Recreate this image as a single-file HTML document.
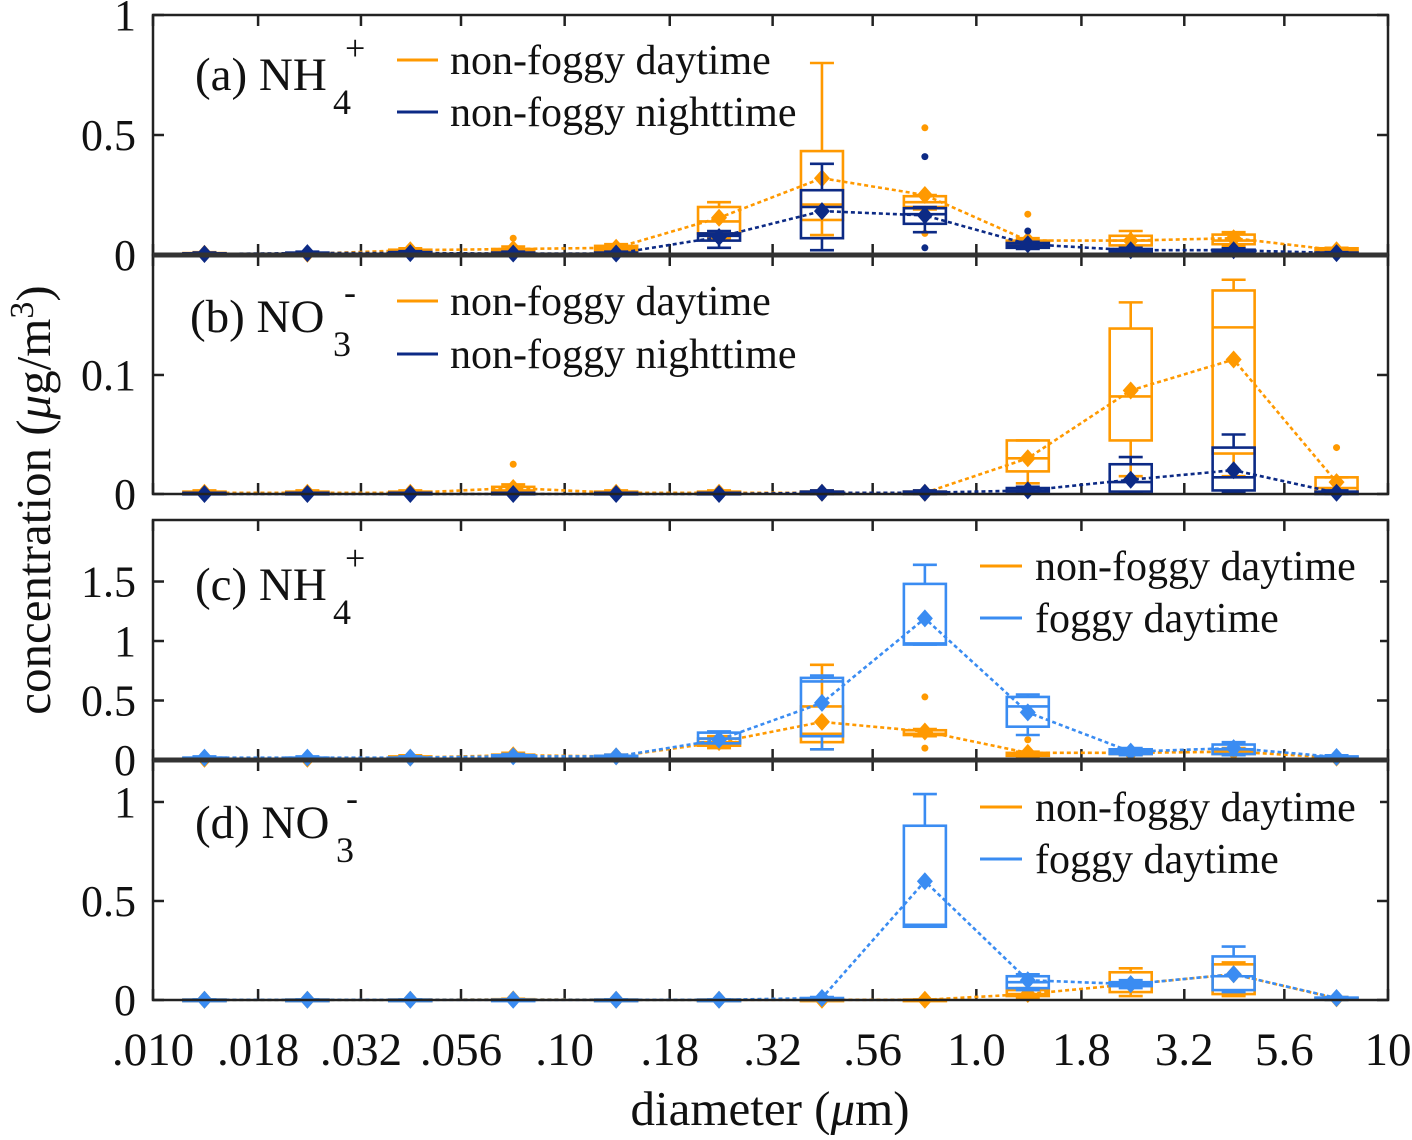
<!DOCTYPE html>
<html><head><meta charset="utf-8">
<style>
html,body{margin:0;padding:0;background:#fff;}
svg text{font-family:"Liberation Serif",serif;fill:#111;}
</style></head>
<body>
<svg id="chart" width="1412" height="1135" viewBox="0 0 1412 1135" xmlns="http://www.w3.org/2000/svg">
<g id="grid"></g>
</svg>
<script>
// ---------- data ----------
const xTickLabels = [".010",".018",".032",".056",".10",".18",".32",".56","1.0","1.8","3.2","5.6","10"];
const xTickValues = [0.010,0.018,0.032,0.056,0.10,0.18,0.32,0.56,1.0,1.8,3.2,5.6,10];
const binCount = 12;
// Each box: [whiskerLow, q1, median, q3, whiskerHigh, mean]
const aDay = [[0,0.002,0.004,0.008,0.012,0.005],[0,0.002,0.004,0.007,0.01,0.005],[0.005,0.01,0.015,0.022,0.028,0.02],[0.005,0.012,0.018,0.025,0.035,0.025],[0.01,0.02,0.028,0.038,0.045,0.03],[0.07,0.09,0.14,0.2,0.22,0.155],[0.083,0.146,0.21,0.433,0.8,0.32],[0.19,0.2,0.22,0.245,0.25,0.25],[0.03,0.035,0.045,0.06,0.07,0.06],[0.035,0.04,0.06,0.08,0.1,0.06],[0.035,0.045,0.06,0.085,0.095,0.07],[0.008,0.01,0.018,0.028,0.03,0.02]];
const aDayOut = [[],[],[],[0.07],[],[],[],[0.53,0.09],[0.17],[],[],[]];
const aNight = [[0,0.002,0.004,0.007,0.01,0.004],[0,0.003,0.006,0.01,0.014,0.008],[0,0.004,0.008,0.012,0.016,0.008],[0,0.003,0.006,0.01,0.014,0.006],[0,0.003,0.006,0.01,0.014,0.006],[0.03,0.06,0.08,0.09,0.1,0.075],[0.02,0.07,0.2,0.27,0.38,0.183],[0.095,0.13,0.17,0.195,0.2,0.165],[0.025,0.03,0.04,0.05,0.055,0.045],[0.005,0.01,0.018,0.025,0.03,0.02],[0.005,0.01,0.015,0.022,0.028,0.02],[0,0.003,0.006,0.01,0.012,0.008]];
const aNightOut = [[],[],[],[],[],[],[],[0.41,0.03],[0.1],[],[],[]];
const bDay = [[0,0,0.001,0.002,0.003,0.001],[0,0,0.001,0.002,0.003,0.001],[0,0,0.001,0.002,0.003,0.001],[0,0.001,0.003,0.006,0.008,0.005],[0,0,0.001,0.002,0.003,0.001],[0,0,0.001,0.002,0.003,0.001],[0,0,0.001,0.002,0.003,0.001],[0,0,0.001,0.002,0.003,0.001],[0.009,0.019,0.03,0.045,0.045,0.03],[0.015,0.045,0.082,0.139,0.161,0.087],[0.015,0.034,0.14,0.171,0.18,0.113],[0.001,0.001,0.005,0.014,0.014,0.01]];
const bDayOut = [[],[],[],[0.025],[],[],[],[],[],[],[],[0.039]];
const bNight = [[0,0,0,0.001,0.001,0],[0,0,0,0.001,0.001,0],[0,0,0,0.001,0.001,0],[0,0,0,0.001,0.001,0],[0,0,0,0.001,0.001,0],[0,0,0,0.001,0.001,0],[0,0,0.001,0.002,0.003,0.001],[0,0,0.001,0.002,0.003,0.001],[0.001,0.002,0.003,0.005,0.006,0.003],[0.001,0.002,0.01,0.025,0.031,0.012],[0.001,0.003,0.014,0.039,0.05,0.02],[0,0,0.001,0.002,0.003,0.001]];
const bNightOut = [[],[],[],[],[],[],[],[],[],[],[],[]];
const cDay = [[0,0.005,0.01,0.015,0.02,0.01],[0,0.005,0.01,0.015,0.02,0.01],[0.005,0.01,0.02,0.03,0.04,0.02],[0.01,0.02,0.03,0.045,0.06,0.04],[0.01,0.015,0.025,0.035,0.045,0.03],[0.1,0.12,0.15,0.18,0.2,0.15],[0.09,0.15,0.22,0.45,0.8,0.32],[0.2,0.21,0.22,0.25,0.26,0.24],[0.03,0.035,0.045,0.06,0.07,0.06],[0.04,0.05,0.06,0.07,0.08,0.06],[0.04,0.05,0.07,0.09,0.1,0.07],[0.005,0.01,0.015,0.02,0.03,0.02]];
const cDayOut = [[],[],[],[],[],[],[],[0.53,0.1],[0.17],[],[],[]];
const cFog = [[0.005,0.01,0.015,0.02,0.03,0.02],[0.005,0.01,0.015,0.02,0.03,0.02],[0.005,0.01,0.015,0.02,0.03,0.02],[0.01,0.02,0.03,0.04,0.05,0.03],[0.01,0.015,0.025,0.035,0.045,0.03],[0.14,0.14,0.18,0.23,0.24,0.17],[0.09,0.2,0.66,0.69,0.71,0.48],[0.97,0.97,0.98,1.48,1.64,1.19],[0.21,0.28,0.45,0.53,0.55,0.4],[0.04,0.05,0.07,0.09,0.1,0.07],[0.04,0.05,0.09,0.13,0.15,0.1],[0.01,0.02,0.025,0.03,0.04,0.025]];
const cFogOut = [[],[],[],[],[],[],[],[],[],[],[],[]];
const dDay = [[0,0,0.001,0.002,0.003,0.001],[0,0,0.001,0.002,0.003,0.001],[0,0,0.001,0.002,0.003,0.001],[0,0,0.002,0.004,0.006,0.003],[0,0,0.001,0.002,0.003,0.001],[0,0,0.001,0.002,0.003,0.001],[0,0,0.001,0.002,0.003,0.001],[0,0,0.001,0.002,0.003,0.001],[0.01,0.02,0.03,0.05,0.06,0.03],[0.02,0.04,0.08,0.14,0.16,0.08],[0.02,0.03,0.12,0.18,0.19,0.13],[0,0.003,0.006,0.01,0.015,0.008]];
const dDayOut = [[],[],[],[],[],[],[],[],[],[],[],[]];
const dFog = [[0,0,0.001,0.002,0.003,0.001],[0,0,0.001,0.002,0.003,0.001],[0,0,0.001,0.002,0.003,0.001],[0,0,0.001,0.002,0.003,0.001],[0,0,0.001,0.002,0.003,0.001],[0,0,0.001,0.002,0.003,0.001],[0,0,0.005,0.01,0.015,0.01],[0.37,0.37,0.38,0.88,1.04,0.6],[0.05,0.06,0.09,0.12,0.13,0.1],[0.06,0.07,0.08,0.09,0.1,0.08],[0.04,0.05,0.12,0.22,0.27,0.13],[0,0.005,0.008,0.012,0.015,0.01]];
const dFogOut = [[],[],[],[],[],[],[],[],[],[],[],[]];
const aYTicks = [0,0.5,1];
const bYTicks = [0,0.1];
const cYTicks = [0,0.5,1,1.5];
const dYTicks = [0,0.5,1];

// ---------- layout ----------
const NS="http://www.w3.org/2000/svg";
const svg=document.getElementById('chart');
const X0=153,X1=1388;
const ORANGE="#ff9900",NAVY="#0c2a85",BLUE="#3a8cf2";
function xScale(v){return X0+(Math.log10(v)+2)/3*(X1-X0);}
function binX(i){return xScale(Math.pow(10,-2+(i+0.5)*0.25));}
function el(tag,attrs,parent){const e=document.createElementNS(NS,tag);for(const k in attrs)e.setAttribute(k,attrs[k]);(parent||svg).appendChild(e);return e;}

const panels=[
 {id:'a',top:15,bottom:255,max:1,ticks:aYTicks,tickLabels:["0","0.5","1"],series:[[aDay,aDayOut,ORANGE],[aNight,aNightOut,NAVY]]},
 {id:'b',top:255,bottom:494,max:0.2008,ticks:bYTicks,tickLabels:["0","0.1"],series:[[bDay,bDayOut,ORANGE],[bNight,bNightOut,NAVY]]},
 {id:'c',top:520,bottom:760,max:2.017,ticks:cYTicks,tickLabels:["0","0.5","1","1.5"],series:[[cDay,cDayOut,ORANGE],[cFog,cFogOut,BLUE]]},
 {id:'d',top:760,bottom:1000,max:1.212,ticks:dYTicks,tickLabels:["0","0.5","1"],series:[[dDay,dDayOut,ORANGE],[dFog,dFogOut,BLUE]]}
];

panels.forEach(p=>{
 const g=el('g',{});
 
 
 const y=v=>p.bottom-v/p.max*(p.bottom-p.top);
 xTickValues.forEach(v=>{
  const x=xScale(v);
  const t1=el('line',{x1:x,x2:x,y1:p.bottom,y2:p.bottom-11,stroke:'#222','stroke-width':2.5},g);
  
  
  const t2=el('line',{x1:x,x2:x,y1:p.top,y2:p.top+11,stroke:'#222','stroke-width':2.5},g);
  
  
 });
 p.ticks.forEach((v,k)=>{
  const yy=y(v);
  el('line',{x1:X0,x2:X0+11,y1:yy,y2:yy,stroke:'#222','stroke-width':2.5},g);
  el('line',{x1:X1,x2:X1-11,y1:yy,y2:yy,stroke:'#222','stroke-width':2.5},g);
  const tl=el('text',{x:136,y:yy+15,'text-anchor':'end','font-size':44},g);
  tl.textContent=p.tickLabels[k];
  
  
 });
 p.series.forEach(([boxes,outs,col])=>{
  const sg=el('g',{},g);
  
  
  boxes.forEach((b,i)=>{
   const cx=binX(i);
   const [lo,q1,md,q3,hi]=b;
   const bx=el('rect',{x:cx-21,y:y(q3),width:42,height:Math.max(y(q1)-y(q3),1.5),fill:'none',stroke:col,'stroke-width':2.6},sg);
   
   
   el('line',{x1:cx-21,x2:cx+21,y1:y(md),y2:y(md),stroke:col,'stroke-width':2.6},sg);
   el('line',{x1:cx,x2:cx,y1:y(q3),y2:y(hi),stroke:col,'stroke-width':2.6},sg);
   el('line',{x1:cx,x2:cx,y1:y(q1),y2:y(lo),stroke:col,'stroke-width':2.6},sg);
   el('line',{x1:cx-12,x2:cx+12,y1:y(hi),y2:y(hi),stroke:col,'stroke-width':2.6},sg);
   el('line',{x1:cx-12,x2:cx+12,y1:y(lo),y2:y(lo),stroke:col,'stroke-width':2.6},sg);
   outs[i].forEach(o=>{
    const c=el('circle',{cx:cx,cy:y(o),r:3.5,fill:col},sg);
    
    
   });
  });
  const pts=boxes.map((b,i)=>binX(i)+','+y(b[5])).join(' ');
  const ml=el('polyline',{points:pts,fill:'none',stroke:col,'stroke-width':2.6,'stroke-dasharray':'4 3'},sg);
  
  
  boxes.forEach((b,i)=>{
   const cx=binX(i),cy=y(b[5]);
   const d=el('polygon',{points:`${cx},${cy-9} ${cx+8},${cy} ${cx},${cy+9} ${cx-8},${cy}`,fill:col},sg);
   
   
  });
 });
 el('rect',{x:X0,y:p.top,width:X1-X0,height:p.bottom-p.top,fill:'none',stroke:'#222','stroke-width':2.5},g);
});
[255,760].forEach(yy=>el('line',{x1:X0,x2:X1,y1:yy,y2:yy,stroke:'#333','stroke-width':5}));

xTickValues.forEach((v,k)=>{
 const t=el('text',{x:xScale(v),y:1065,'text-anchor':'middle','font-size':47});
 t.textContent=xTickLabels[k];
 
 
});
</script>
<svg width="1412" height="1135" style="position:absolute;left:0;top:0;pointer-events:none" xmlns="http://www.w3.org/2000/svg">
<text x="770" y="1125" text-anchor="middle" font-size="49" style="font-family:'Liberation Serif',serif">diameter (<tspan font-style="italic">μ</tspan>m)</text>
<text transform="translate(50,500) rotate(-90)" text-anchor="middle" font-size="49" style="font-family:'Liberation Serif',serif">concentration (<tspan font-style="italic">μ</tspan>g/m<tspan dy="-17" font-size="34">3</tspan><tspan dy="17">)</tspan></text>

<text x="195" y="90" font-size="47" style="font-family:'Liberation Serif',serif">(a) NH<tspan x="333" dy="24" font-size="36">4</tspan><tspan x="345" dy="-54" font-size="36">+</tspan></text>
<text x="190" y="332" font-size="47" style="font-family:'Liberation Serif',serif">(b) NO<tspan x="333" dy="24" font-size="36">3</tspan><tspan x="344" dy="-52" font-size="36">-</tspan></text>
<text x="195" y="600" font-size="47" style="font-family:'Liberation Serif',serif">(c) NH<tspan x="333" dy="24" font-size="36">4</tspan><tspan x="345" dy="-54" font-size="36">+</tspan></text>
<text x="195" y="838" font-size="47" style="font-family:'Liberation Serif',serif">(d) NO<tspan x="336" dy="24" font-size="36">3</tspan><tspan x="346" dy="-52" font-size="36">-</tspan></text>

<g style="font-family:'Liberation Serif',serif" font-size="42">
<line x1="397" x2="438" y1="60" y2="60" stroke="#ff9900" stroke-width="3"/><text x="450" y="74">non-foggy daytime</text>
<line x1="397" x2="438" y1="112" y2="112" stroke="#0c2a85" stroke-width="3"/><text x="450" y="126">non-foggy nighttime</text></g>
<g style="font-family:'Liberation Serif',serif" font-size="42">
<line x1="397" x2="438" y1="301" y2="301" stroke="#ff9900" stroke-width="3"/><text x="450" y="315">non-foggy daytime</text>
<line x1="397" x2="438" y1="354" y2="354" stroke="#0c2a85" stroke-width="3"/><text x="450" y="368">non-foggy nighttime</text></g>
<g style="font-family:'Liberation Serif',serif" font-size="42">
<rect x="975" y="540" width="405" height="105" fill="#fff"/>
<line x1="980" x2="1022" y1="566" y2="566" stroke="#ff9900" stroke-width="3"/><text x="1035" y="580">non-foggy daytime</text>
<line x1="980" x2="1022" y1="618" y2="618" stroke="#3a8cf2" stroke-width="3"/><text x="1035" y="632">foggy daytime</text></g>
<g style="font-family:'Liberation Serif',serif" font-size="42">
<rect x="975" y="782" width="405" height="105" fill="#fff"/>
<line x1="980" x2="1022" y1="807" y2="807" stroke="#ff9900" stroke-width="3"/><text x="1035" y="821">non-foggy daytime</text>
<line x1="980" x2="1022" y1="859" y2="859" stroke="#3a8cf2" stroke-width="3"/><text x="1035" y="873">foggy daytime</text></g>
</svg>
</body></html>
